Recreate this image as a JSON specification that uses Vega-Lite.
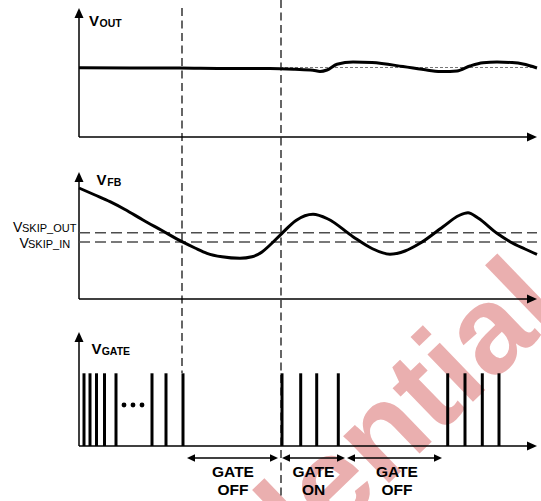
{
  "$schema": "https://vega.github.io/schema/vega-lite/v6.json",
  "width": 541,
  "height": 501,
  "autosize": {"type": "none"},
  "padding": 0,
  "background": "white",
  "config": {"view": {"stroke": null}},
  "datasets": {
    "watermark": [{"x": 566, "y": 312, "text": "Confidential"}],
    "axes": [
      {"x": 79, "y": 14, "x2": 79, "y2": 137},
      {"x": 79, "y": 137, "x2": 530, "y2": 137},
      {"x": 79, "y": 178, "x2": 79, "y2": 299},
      {"x": 79, "y": 299, "x2": 530, "y2": 299},
      {"x": 79, "y": 338, "x2": 79, "y2": 446},
      {"x": 79, "y": 446, "x2": 530, "y2": 446}
    ],
    "arrows": [
      {"x": 79, "y": 8, "dir": "up"},
      {"x": 537, "y": 137, "dir": "right"},
      {"x": 79, "y": 172, "dir": "up"},
      {"x": 537, "y": 299, "dir": "right"},
      {"x": 79, "y": 332, "dir": "up"},
      {"x": 537, "y": 446, "dir": "right"},
      {"x": 187, "y": 458, "dir": "sleft"},
      {"x": 278, "y": 458, "dir": "sright"},
      {"x": 282, "y": 458, "dir": "sleft"},
      {"x": 345, "y": 458, "dir": "sright"},
      {"x": 347, "y": 458, "dir": "sleft"},
      {"x": 442, "y": 458, "dir": "sright"}
    ],
    "spans": [
      {"x": 189, "y": 458, "x2": 276, "y2": 458},
      {"x": 284, "y": 458, "x2": 343, "y2": 458},
      {"x": 349, "y": 458, "x2": 440, "y2": 458}
    ],
    "markers": [
      {"x": 182, "y": 8, "x2": 182, "y2": 373},
      {"x": 281, "y": 0, "x2": 281, "y2": 498}
    ],
    "thresholds": [
      {"x": 79, "y": 232.7, "x2": 537, "y2": 232.7},
      {"x": 79, "y": 242, "x2": 537, "y2": 242}
    ],
    "voutref": [{"x": 280, "y": 67.5, "x2": 537, "y2": 67.5}],
    "vout": [
      {"t": 79, "v": 67.8}, {"t": 130, "v": 67.9}, {"t": 180, "v": 68.1},
      {"t": 230, "v": 68.6}, {"t": 270, "v": 68.6}, {"t": 295, "v": 69.3},
      {"t": 313, "v": 70.2}, {"t": 320, "v": 71.5}, {"t": 327, "v": 70},
      {"t": 337, "v": 64.3}, {"t": 353, "v": 62}, {"t": 372, "v": 62.6},
      {"t": 403, "v": 66.5}, {"t": 428, "v": 70.2}, {"t": 443, "v": 71.6},
      {"t": 457, "v": 71}, {"t": 470, "v": 66}, {"t": 483, "v": 62.7},
      {"t": 497, "v": 62}, {"t": 512, "v": 62.6}, {"t": 523, "v": 64},
      {"t": 537, "v": 68}
    ],
    "vfb": [
      {"t": 79, "v": 188}, {"t": 95, "v": 195}, {"t": 110, "v": 201.7},
      {"t": 125, "v": 209.5}, {"t": 143, "v": 220}, {"t": 162, "v": 230.5},
      {"t": 182, "v": 241.7}, {"t": 195, "v": 248}, {"t": 207, "v": 253.3},
      {"t": 222, "v": 256.8}, {"t": 240, "v": 258.3}, {"t": 252, "v": 256.8},
      {"t": 262, "v": 252}, {"t": 270, "v": 245}, {"t": 282, "v": 233.3},
      {"t": 296, "v": 220.5}, {"t": 313, "v": 214.3}, {"t": 328, "v": 219},
      {"t": 353, "v": 236.7}, {"t": 372, "v": 248.5}, {"t": 390, "v": 254.3},
      {"t": 405, "v": 251}, {"t": 420, "v": 243.3}, {"t": 443, "v": 226.7},
      {"t": 459, "v": 215.5}, {"t": 468, "v": 212.7}, {"t": 478, "v": 218},
      {"t": 497, "v": 233.3}, {"t": 510, "v": 241.7}, {"t": 525, "v": 249},
      {"t": 537, "v": 254.3}
    ],
    "pulses": [
      {"t": 84, "hi": 373.3, "lo": 446}, {"t": 90, "hi": 373.3, "lo": 446},
      {"t": 96.5, "hi": 373.3, "lo": 446}, {"t": 104.5, "hi": 373.3, "lo": 446},
      {"t": 116, "hi": 373.3, "lo": 446}, {"t": 152, "hi": 373.3, "lo": 446},
      {"t": 166, "hi": 373.3, "lo": 446}, {"t": 183, "hi": 373.3, "lo": 446},
      {"t": 282, "hi": 373.3, "lo": 446}, {"t": 300.7, "hi": 373.3, "lo": 446},
      {"t": 316.7, "hi": 373.3, "lo": 446}, {"t": 338.3, "hi": 373.3, "lo": 446},
      {"t": 447.7, "hi": 373.3, "lo": 446}, {"t": 465, "hi": 373.3, "lo": 446},
      {"t": 482.3, "hi": 373.3, "lo": 446}, {"t": 499, "hi": 373.3, "lo": 446}
    ],
    "dots": [{"t": 124, "v": 405}, {"t": 133, "v": 405}, {"t": 142, "v": 405}],
    "boldV": [
      {"x": 89, "y": 26, "text": "V"},
      {"x": 96.5, "y": 185, "text": "V"},
      {"x": 91.5, "y": 354, "text": "V"}
    ],
    "boldSub": [
      {"x": 99.5, "y": 26.5, "text": "OUT"},
      {"x": 107.3, "y": 186, "text": "FB"},
      {"x": 101.7, "y": 354.5, "text": "GATE"}
    ],
    "regV": [
      {"x": 13, "y": 232.3, "text": "V"},
      {"x": 19.5, "y": 248, "text": "V"}
    ],
    "regSub": [
      {"x": 22, "y": 232.3, "text": "SKIP_OUT"},
      {"x": 28, "y": 248, "text": "SKIP_IN"}
    ],
    "gateText": [
      {"x": 233, "y": 477, "text": "GATE"},
      {"x": 233, "y": 495, "text": "OFF"},
      {"x": 313.5, "y": 477, "text": "GATE"},
      {"x": 313.5, "y": 495, "text": "ON"},
      {"x": 397, "y": 477, "text": "GATE"},
      {"x": 397, "y": 495, "text": "OFF"}
    ]
  },
  "layer": [
    {
      "data": {"name": "watermark"},
      "mark": {"type": "text", "font": "Liberation Sans", "fontWeight": "bold", "fontSize": 124, "angle": -44, "align": "right", "baseline": "alphabetic", "color": "#EAAFAF"},
      "encoding": {
        "x": {"field": "x", "type": "quantitative", "scale": {"domain": [0, 541], "nice": false, "zero": false}, "axis": null},
        "y": {"field": "y", "type": "quantitative", "scale": {"domain": [0, 501], "nice": false, "zero": false, "reverse": true}, "axis": null},
        "text": {"field": "text"}
      }
    },
    {
      "data": {"name": "axes"},
      "mark": {"type": "rule", "color": "black", "strokeWidth": 1.5},
      "encoding": {
        "x": {"field": "x", "type": "quantitative", "axis": null},
        "y": {"field": "y", "type": "quantitative", "axis": null},
        "x2": {"field": "x2"},
        "y2": {"field": "y2"}
      }
    },
    {
      "data": {"name": "arrows"},
      "mark": {"type": "point", "filled": true, "color": "black", "opacity": 1, "strokeWidth": 0, "size": 100},
      "encoding": {
        "x": {"field": "x", "type": "quantitative", "axis": null},
        "y": {"field": "y", "type": "quantitative", "axis": null},
        "shape": {"field": "dir", "type": "nominal", "legend": null,
          "scale": {"domain": ["up", "right", "sleft", "sright"],
                    "range": ["M0,0L-0.9,2L0.9,2Z", "M0,0L-2,-0.9L-2,0.9Z", "M0,0L1.6,-0.75L1.6,0.75Z", "M0,0L-1.6,-0.75L-1.6,0.75Z"]}}
      }
    },
    {
      "data": {"name": "spans"},
      "mark": {"type": "rule", "color": "black", "strokeWidth": 1.3},
      "encoding": {
        "x": {"field": "x", "type": "quantitative", "axis": null},
        "y": {"field": "y", "type": "quantitative", "axis": null},
        "x2": {"field": "x2"},
        "y2": {"field": "y2"}
      }
    },
    {
      "data": {"name": "markers"},
      "mark": {"type": "rule", "color": "black", "strokeWidth": 1.2, "strokeDash": [8, 4.5]},
      "encoding": {
        "x": {"field": "x", "type": "quantitative", "axis": null},
        "y": {"field": "y", "type": "quantitative", "axis": null},
        "x2": {"field": "x2"},
        "y2": {"field": "y2"}
      }
    },
    {
      "data": {"name": "thresholds"},
      "mark": {"type": "rule", "color": "#4d4d4d", "strokeWidth": 1.4, "strokeDash": [11, 5]},
      "encoding": {
        "x": {"field": "x", "type": "quantitative", "axis": null},
        "y": {"field": "y", "type": "quantitative", "axis": null},
        "x2": {"field": "x2"},
        "y2": {"field": "y2"}
      }
    },
    {
      "data": {"name": "voutref"},
      "mark": {"type": "rule", "color": "#777777", "strokeWidth": 1, "strokeDash": [3, 2]},
      "encoding": {
        "x": {"field": "x", "type": "quantitative", "axis": null},
        "y": {"field": "y", "type": "quantitative", "axis": null},
        "x2": {"field": "x2"},
        "y2": {"field": "y2"}
      }
    },
    {
      "data": {"name": "vout"},
      "mark": {"type": "line", "color": "black", "strokeWidth": 3, "interpolate": "monotone"},
      "encoding": {
        "x": {"field": "t", "type": "quantitative", "axis": null},
        "y": {"field": "v", "type": "quantitative", "axis": null}
      }
    },
    {
      "data": {"name": "vfb"},
      "mark": {"type": "line", "color": "black", "strokeWidth": 3, "interpolate": "monotone"},
      "encoding": {
        "x": {"field": "t", "type": "quantitative", "axis": null},
        "y": {"field": "v", "type": "quantitative", "axis": null}
      }
    },
    {
      "data": {"name": "pulses"},
      "mark": {"type": "rule", "color": "black", "strokeWidth": 3},
      "encoding": {
        "x": {"field": "t", "type": "quantitative", "axis": null},
        "y": {"field": "hi", "type": "quantitative", "axis": null},
        "y2": {"field": "lo"}
      }
    },
    {
      "data": {"name": "dots"},
      "mark": {"type": "circle", "color": "black", "opacity": 1, "size": 24},
      "encoding": {
        "x": {"field": "t", "type": "quantitative", "axis": null},
        "y": {"field": "v", "type": "quantitative", "axis": null}
      }
    },
    {
      "data": {"name": "boldV"},
      "mark": {"type": "text", "font": "Liberation Sans", "fontWeight": "bold", "fontSize": 15, "align": "left", "baseline": "alphabetic", "color": "black"},
      "encoding": {
        "x": {"field": "x", "type": "quantitative", "axis": null},
        "y": {"field": "y", "type": "quantitative", "axis": null},
        "text": {"field": "text"}
      }
    },
    {
      "data": {"name": "boldSub"},
      "mark": {"type": "text", "font": "Liberation Sans", "fontWeight": "bold", "fontSize": 10.5, "align": "left", "baseline": "alphabetic", "color": "black"},
      "encoding": {
        "x": {"field": "x", "type": "quantitative", "axis": null},
        "y": {"field": "y", "type": "quantitative", "axis": null},
        "text": {"field": "text"}
      }
    },
    {
      "data": {"name": "regV"},
      "mark": {"type": "text", "font": "Liberation Sans", "fontSize": 14, "align": "left", "baseline": "alphabetic", "color": "black"},
      "encoding": {
        "x": {"field": "x", "type": "quantitative", "axis": null},
        "y": {"field": "y", "type": "quantitative", "axis": null},
        "text": {"field": "text"}
      }
    },
    {
      "data": {"name": "regSub"},
      "mark": {"type": "text", "font": "Liberation Sans", "fontSize": 11, "align": "left", "baseline": "alphabetic", "color": "black"},
      "encoding": {
        "x": {"field": "x", "type": "quantitative", "axis": null},
        "y": {"field": "y", "type": "quantitative", "axis": null},
        "text": {"field": "text"}
      }
    },
    {
      "data": {"name": "gateText"},
      "mark": {"type": "text", "font": "Liberation Sans", "fontWeight": "bold", "fontSize": 15.5, "align": "center", "baseline": "alphabetic", "color": "black"},
      "encoding": {
        "x": {"field": "x", "type": "quantitative", "axis": null},
        "y": {"field": "y", "type": "quantitative", "axis": null},
        "text": {"field": "text"}
      }
    }
  ]
}
